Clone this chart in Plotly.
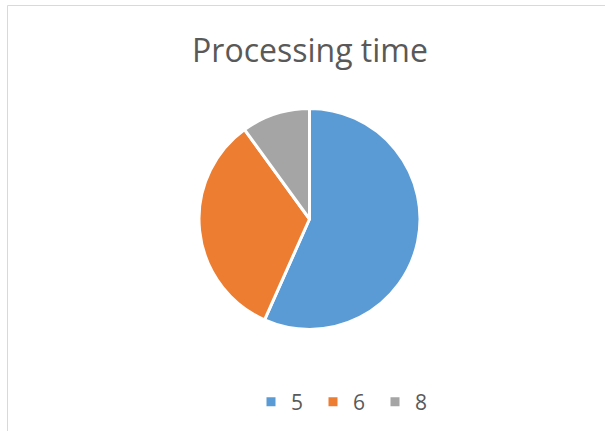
import plotly.graph_objects as go

labels = ["5", "6", "8"]
values = [17, 10, 3]
colors = ["#5B9BD5", "#ED7D31", "#A5A5A5"]

W, H = 605, 431

fig = go.Figure(go.Pie(
    labels=labels,
    values=values,
    sort=False,
    direction="clockwise",
    rotation=0,
    marker=dict(colors=colors, line=dict(color="white", width=3)),
    textinfo="none",
    hoverinfo="label+value+percent",
    domain=dict(x=[199 / W, 420 / W], y=[1 - 330 / H, 1 - 108 / H]),
))

fig.update_layout(
    width=W, height=H,
    margin=dict(l=0, r=0, t=0, b=0),
    paper_bgcolor="white",
    plot_bgcolor="white",
    title=dict(
        text="Processing time",
        x=310 / W, xanchor="center",
        y=1 - 51 / H, yanchor="middle",
        font=dict(family="Open Sans", size=32, color="#595959"),
    ),
    legend=dict(
        orientation="h",
        x=251 / W, xanchor="left",
        y=1 - 402 / H, yanchor="middle",
        font=dict(family="Open Sans", size=21, color="#595959"),
        itemwidth=30,
        entrywidth=17,
        entrywidthmode="pixels",
    ),
    showlegend=True,
    shapes=[
        dict(type="rect", xref="paper", yref="paper",
             x0=7.5 / W, x1=1.2, y0=-0.2, y1=1 - 5.5 / H,
             line=dict(color="#D9D9D9", width=1), fillcolor="rgba(0,0,0,0)",
             layer="below"),
    ],
)

fig.write_html("out.html")
